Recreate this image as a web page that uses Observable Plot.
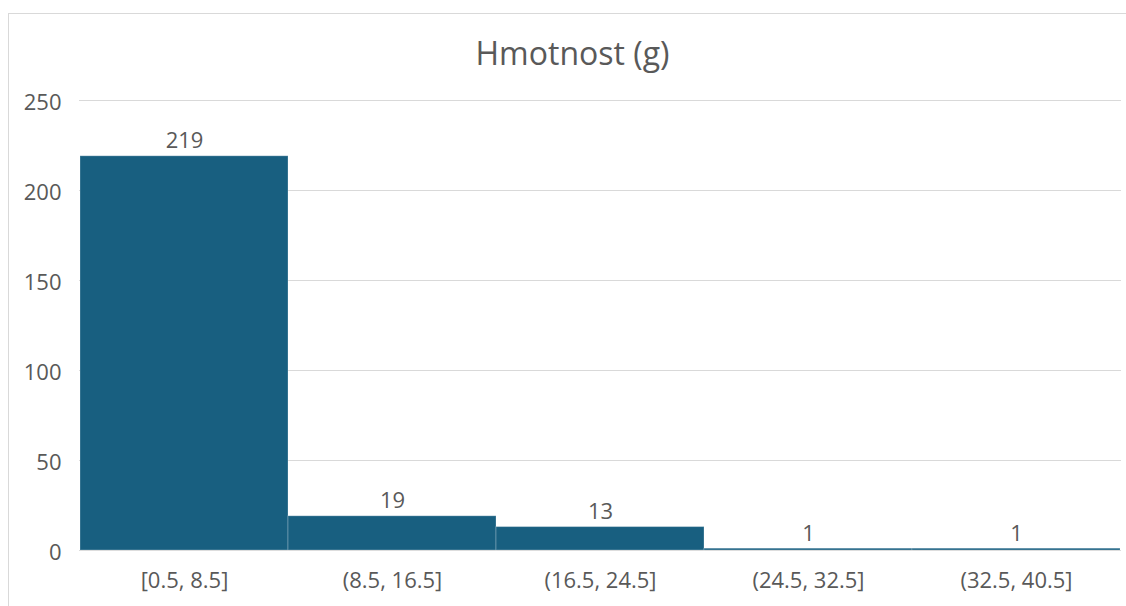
<!DOCTYPE html>
<html>
<head>
<meta charset="utf-8">
<script src="https://cdn.jsdelivr.net/npm/d3@7"></script>
<script src="https://cdn.jsdelivr.net/npm/@observablehq/plot@0.6"></script>
<style>
  html, body { margin: 0; padding: 0; background: #fff; }
  #wrap { position: relative; width: 1126px; height: 606px; overflow: hidden; }
  #frame { position: absolute; left: 8px; top: 13px; width: 1130px; height: 610px; border: 1px solid #d9d9d9; box-sizing: border-box; }
  #title { position: absolute; left: 0; width: 1145px; top: 31px; text-align: center; font-family: "Open Sans", sans-serif; font-size: 32px; color: #595959; line-height: 44px; }
  #chart { position: absolute; left: 0; top: 0; }
</style>
</head>
<body>
<div id="wrap">
  <div id="frame"></div>
  <div id="chart"></div>
  <div id="title">Hmotnost (g)</div>
</div>
<script>
const categories = ["[0.5, 8.5]", "(8.5, 16.5]", "(16.5, 24.5]", "(24.5, 32.5]", "(32.5, 40.5]"];
const counts = [219, 19, 13, 1, 1];
const yTicks = [0, 50, 100, 150, 200, 250];

const data = categories.map((c, i) => ({bin: c, count: counts[i]}));

const chart = Plot.plot({
  width: 1126,
  height: 606,
  marginLeft: 79,
  marginRight: 5,
  marginTop: 100,
  marginBottom: 56,
  style: {fontFamily: "'Open Sans', sans-serif", fontSize: "22px", color: "#595959", background: "transparent"},
  x: {type: "band", domain: categories, paddingInner: 0, paddingOuter: 0, label: null},
  y: {domain: [0, 250], label: null},
  marks: [
    Plot.ruleY(yTicks, {stroke: "#d9d9d9", strokeWidth: 1.2}),
    Plot.barY(data, {x: "bin", y: "count", fill: "#185f80", inset: 0, stroke: "#ffffff", strokeOpacity: 0.25, strokeWidth: 1}),
    Plot.text(data, {x: "bin", y: "count", text: d => String(d.count), dy: -15, fill: "#595959", fontSize: 22}),
    Plot.axisY({ticks: yTicks, tickSize: 0, tickPadding: 18, dy: 2, fontSize: 22, fill: "#595959"}),
    Plot.axisX({tickSize: 0, tickPadding: 22, fontSize: 22, fill: "#595959"})
  ]
});
document.getElementById("chart").appendChild(chart);
</script>
</body>
</html>
